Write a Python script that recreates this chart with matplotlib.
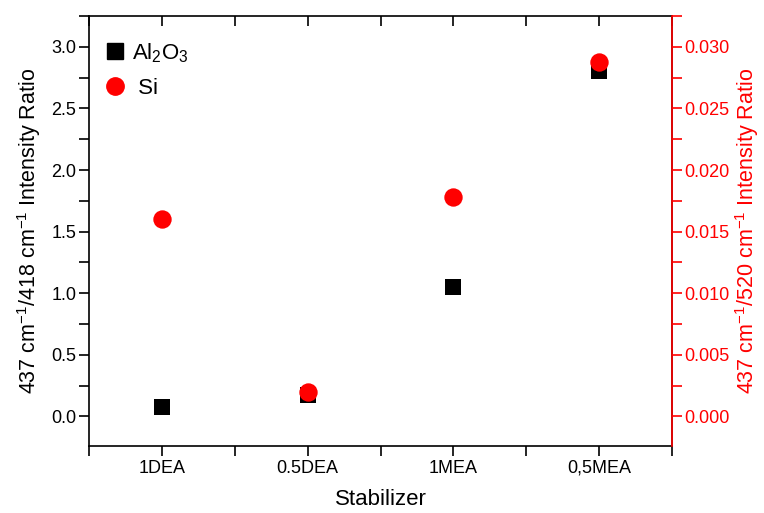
import matplotlib
matplotlib.use("Agg")
import matplotlib.pyplot as plt
from matplotlib.ticker import MultipleLocator, FixedLocator, FormatStrFormatter
from matplotlib.lines import Line2D

plt.rcParams['font.family'] = ['Liberation Sans', 'DejaVu Sans']
plt.rcParams['mathtext.fontset'] = 'custom'
plt.rcParams['mathtext.rm'] = 'Liberation Sans'
plt.rcParams['mathtext.it'] = 'Liberation Sans'

categories = ["1DEA", "0.5DEA", "1MEA", "0,5MEA"]
al2o3_ratio = [0.075, 0.17, 1.05, 2.80]
si_ratio = [0.0160, 0.0020, 0.0178, 0.0288]

red = "#ff0000"
x = list(range(1, len(categories) + 1))

fig = plt.figure(figsize=(7.64, 5.13), dpi=100)
ax = fig.add_axes([89 / 764, 1 - 446 / 513, (672 - 89) / 764, (446 - 16) / 513])
ax2 = ax.twinx()

ax.scatter(x, al2o3_ratio, marker="s", s=130, color="black", zorder=3, linewidths=0)
ax2.scatter(x, si_ratio, marker="o", s=175, color=red, zorder=4, linewidths=0)

ax.set_xlim(0.5, 4.5)
ax.set_ylim(-0.24, 3.25)
ax2.set_ylim(-0.0024, 0.0325)

ax.xaxis.set_major_locator(FixedLocator(x))
ax.xaxis.set_minor_locator(FixedLocator([0.5, 1.5, 2.5, 3.5, 4.5]))
ax.set_xticklabels(categories)
ax.yaxis.set_major_locator(MultipleLocator(0.5))
ax.yaxis.set_minor_locator(MultipleLocator(0.25))
ax.yaxis.set_major_formatter(FormatStrFormatter("%.1f"))
ax2.yaxis.set_major_locator(MultipleLocator(0.005))
ax2.yaxis.set_minor_locator(MultipleLocator(0.0025))
ax2.yaxis.set_major_formatter(FormatStrFormatter("%.3f"))

ax.tick_params(axis="x", which="both", direction="out", length=7, width=1.2,
               top=True, labelsize=13, pad=3)
ax.tick_params(axis="y", which="both", direction="out", length=7, width=1.2,
               labelsize=13, right=False, pad=2)
ax2.tick_params(axis="y", which="both", direction="out", length=7, width=1.2,
                labelsize=13, colors=red, pad=2)

# top ticks point inward
for t in ax.xaxis.get_major_ticks() + ax.xaxis.get_minor_ticks():
    t.tick2line.set_marker(3)
    t.tick2line.set_markersize(7)

for sp in ax.spines.values():
    sp.set_linewidth(1.2)
ax2.spines["right"].set_color(red)
ax2.spines["right"].set_linewidth(1.2)
for name in ("left", "top", "bottom"):
    ax2.spines[name].set_visible(False)

ax.set_xlabel("Stabilizer", fontsize=16, labelpad=9)
ax.set_ylabel(r"437 cm$^{-1}$/418 cm$^{-1}$ Intensity Ratio", fontsize=15.5, labelpad=6)
ax2.set_ylabel(r"437 cm$^{-1}$/520 cm$^{-1}$ Intensity Ratio", fontsize=15.5,
               color=red, labelpad=2)

handles = [
    Line2D([], [], marker="s", ls="none", color="black", markersize=11),
    Line2D([], [], marker="o", ls="none", color=red, markersize=12.5),
]
ax.legend(handles, [r"Al$_2$O$_3$", " Si"], loc="upper left", frameon=False,
          fontsize=16, handletextpad=0.25, bbox_to_anchor=(-0.005, 0.983),
          labelspacing=0.6, handlelength=1.0, borderpad=0.3)

fig.savefig("out.png", dpi=100)
